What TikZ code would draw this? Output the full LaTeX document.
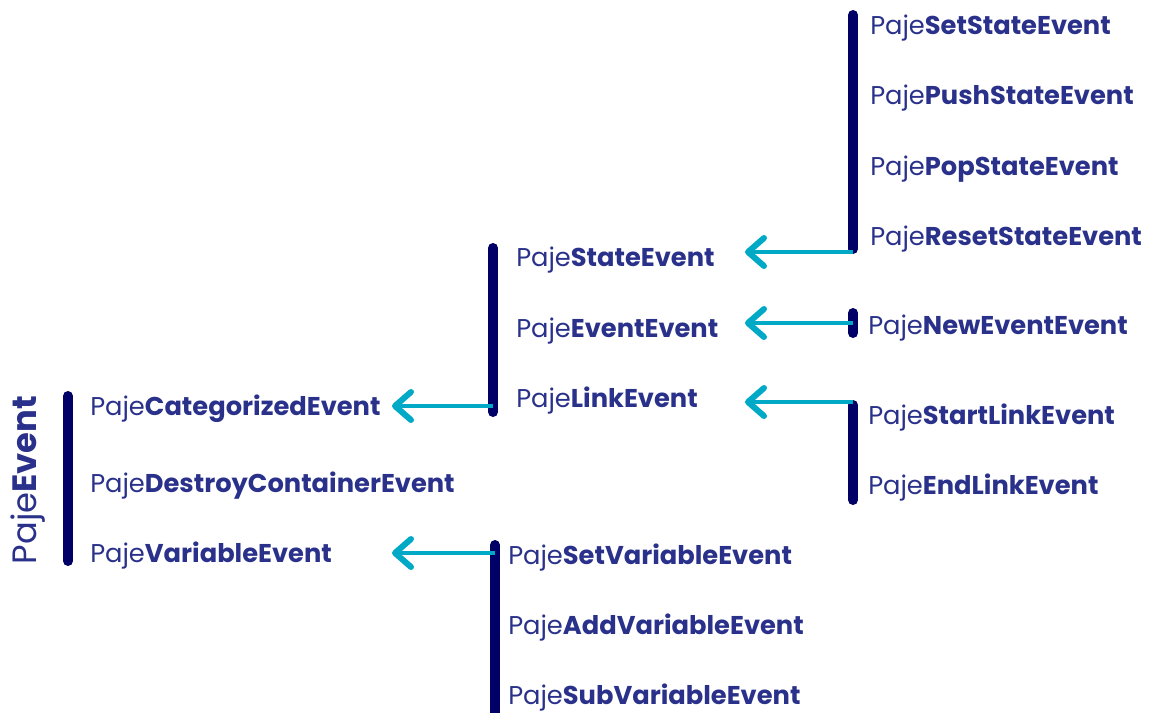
\documentclass[tikz,border=0pt]{standalone}
\usepackage{fontspec}
\setmainfont{Poppins}
\usetikzlibrary{arrows.meta,positioning,calc}
\definecolor{barnavy}{HTML}{000066}
\definecolor{txtnavy}{HTML}{2A318A}
\definecolor{arrcyan}{HTML}{00A9C6}
\newcommand{\paje}[1]{Paje\textbf{#1}}

\begin{document}
\begin{tikzpicture}[
  x=0.025cm, y=-0.025cm,
  font=\fontsize{18.3}{21}\selectfont,
  item/.style = {anchor=base west, inner sep=0pt, text=txtnavy},
  root/.style = {rotate=90, anchor=base, inner sep=0pt, text=txtnavy,
                 font=\fontsize{24}{28}\selectfont},
  bar/.style = {draw=barnavy, line width=2.5mm, line cap=round},
  inherit/.style = {draw=arrcyan, line width=1mm,
                    -{Straight Barb[length=4mm, width=7mm, round, line width=1.5mm]}}
]
\useasboundingbox (0,0) rectangle (1152,712);
\clip (0,0) rectangle (1152,712);

% Root class
\node[root] (pajeEvent) at (36,480) {\paje{Event}};

% First level
\node[item] (categorized) at (90,415) {\paje{CategorizedEvent}};
\node[item] (destroyCont) at (90,492) {\paje{DestroyContainerEvent}};
\node[item] (variable)    at (90,562) {\paje{VariableEvent}};

% Children of PajeCategorizedEvent
\node[item] (stateEv) at (516,266) {\paje{StateEvent}};
\node[item] (eventEv) at (516,337) {\paje{EventEvent}};
\node[item] (linkEv)  at (516,407) {\paje{LinkEvent}};

% Children of PajeStateEvent
\node[item] (setState)   at (870,34)  {\paje{SetStateEvent}};
\node[item] (pushState)  at (870,104) {\paje{PushStateEvent}};
\node[item] (popState)   at (870,175) {\paje{PopStateEvent}};
\node[item] (resetState) at (870,245) {\paje{ResetStateEvent}};

% Children of PajeEventEvent / PajeLinkEvent
\node[item] (newEvent)  at (868,334) {\paje{NewEventEvent}};
\node[item] (startLink) at (868,424) {\paje{StartLinkEvent}};
\node[item] (endLink)   at (868,494) {\paje{EndLinkEvent}};

% Children of PajeVariableEvent
\node[item] (setVar) at (508,564) {\paje{SetVariableEvent}};
\node[item] (addVar) at (508,634) {\paje{AddVariableEvent}};
\node[item] (subVar) at (508,704) {\paje{SubVariableEvent}};

% Group bars
\coordinate (rootTop) at (68,396);   \coordinate (rootBot) at (68,561);
\coordinate (catTop)  at (493,248);  \coordinate (catBot)  at (493,412);
\coordinate (stTop)   at (853,15);   \coordinate (stBot)   at (853,249);
\coordinate (evTop)   at (853,313);  \coordinate (evBot)   at (853,333);
\coordinate (lkTop)   at (853,405);  \coordinate (lkBot)   at (853,500);
\coordinate (varTop)  at (495,545);  \coordinate (varBot)  at (495,730);

\draw[bar] (rootTop) -- (rootBot);
\draw[bar] (catTop) -- (catBot);
\draw[bar] (stTop) -- (stBot);
\draw[bar] (evTop) -- (evBot);
\draw[bar] (lkTop) -- (lkBot);
\draw[bar] (varTop) -- (varBot);

% Arrow tips line up in two columns
\coordinate (tipMid)  at (745,0);
\coordinate (tipLeft) at (392,0);

\draw[inherit] (853,252) -- (853,252 -| tipMid);
\draw[inherit] (853,323) -- (853,323 -| tipMid);
\draw[inherit] (853,402) -- (853,402 -| tipMid);
\draw[inherit] (493,406) -- (493,406 -| tipLeft);
\draw[inherit] (495,553) -- (495,553 -| tipLeft);

\end{tikzpicture}
\end{document}
